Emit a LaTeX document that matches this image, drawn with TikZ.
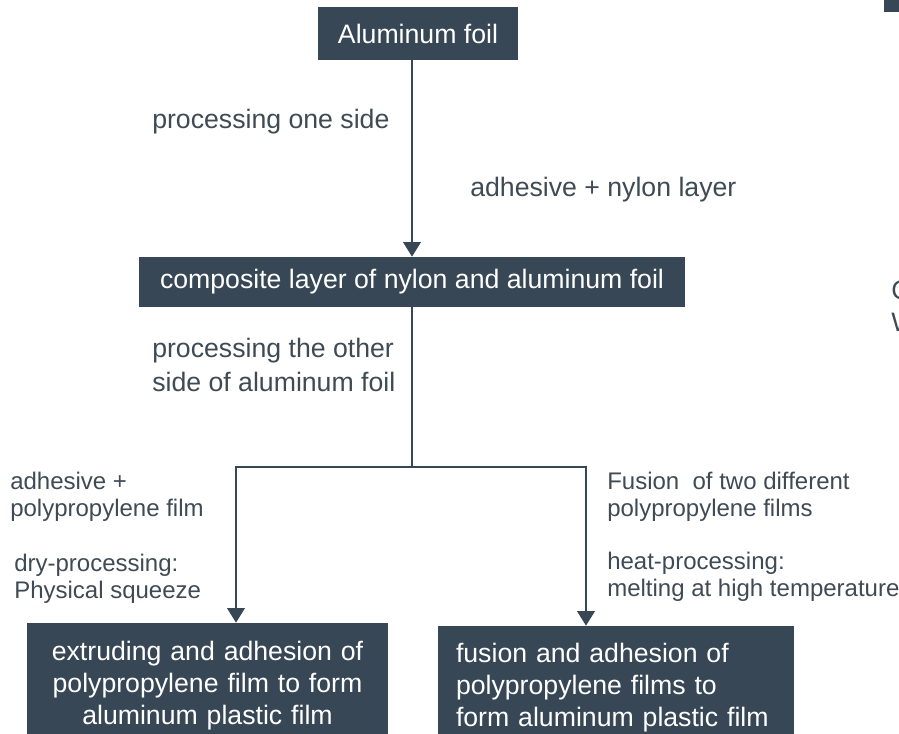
\documentclass[tikz,border=0pt]{standalone}
\usepackage{fontspec}
\setmainfont{Liberation Sans}
\usetikzlibrary{arrows.meta}
\definecolor{slate}{RGB}{55,71,86}
\definecolor{labelgray}{RGB}{62,74,84}
\tikzset{
  box/.style={fill=slate,text=white,inner sep=0pt,font=\fontsize{20}{24}\selectfont},
  lbl/.style={text=labelgray,inner sep=0pt,anchor=base west,align=left,font=\fontsize{20}{25.5}\selectfont},
  smalllbl/.style={lbl,font=\fontsize{18}{20.25}\selectfont},
  flow/.style={draw=slate,line width=2pt},
  arr/.style={flow,-{Triangle[width=13pt,length=11pt]}}
}
\begin{document}
\begin{tikzpicture}[x=0.75pt,y=-0.75pt]
\useasboundingbox (0,0) rectangle (899,734);
\clip (0,0) rectangle (899,734);
% Boxes
\node[box,minimum width=150pt,minimum height=39.75pt] (alu) at (418,33.5) {Aluminum foil};
\node[box,minimum width=409.5pt,minimum height=37.5pt] (comp) at (412,282) {composite layer of nylon and aluminum foil};
\node[box,text width=270.75pt,align=center,minimum height=93.75pt] (extr) at (207.5,685.5)
  {extruding and adhesion of\\polypropylene film to form\\aluminum plastic film};
\node[box,text width=240pt,inner xsep=13.5pt,align=left,minimum height=93pt] (fus) at (616,688)
  {fusion and adhesion of\\polypropylene films to\\form aluminum plastic film};
% Labels (base = last line)
\node[lbl] (oneside) at (152,129) {processing one side};
\node[lbl] (nylon) at (470,197) {adhesive + nylon layer};
\node[lbl] (otherside) at (152,391) {processing the other\\side of aluminum foil};
\node[smalllbl] (ppfilm) at (10,516) {adhesive +\\polypropylene film};
\node[smalllbl] (dry) at (14,598) {dry-processing:\\Physical squeeze};
\node[smalllbl] (twopp) at (607,516) {Fusion\ \ of two different\\polypropylene films};
\node[smalllbl] (heat) at (607,596) {heat-processing:\\melting at high temperature};
% Connectors
\coordinate (split) at (412,467);
\coordinate (lsplit) at (236,467);
\coordinate (rsplit) at (586,467);
\draw[arr] (comp.north |- alu.south) -- (comp.north);
\draw[flow] (comp.south) -- (split);
\draw[arr] (split) -- (lsplit) -- (lsplit |- extr.north);
\draw[arr] (split) -- (rsplit) -- (rsplit |- fus.north);
% Cut-off pieces on the right edge
\fill[slate] (884,0) rectangle (899,12);
\node[lbl] (cpiece) at (891,300) {C};
\node[lbl] (wpiece) at (891,331) {W};
\end{tikzpicture}
\end{document}
